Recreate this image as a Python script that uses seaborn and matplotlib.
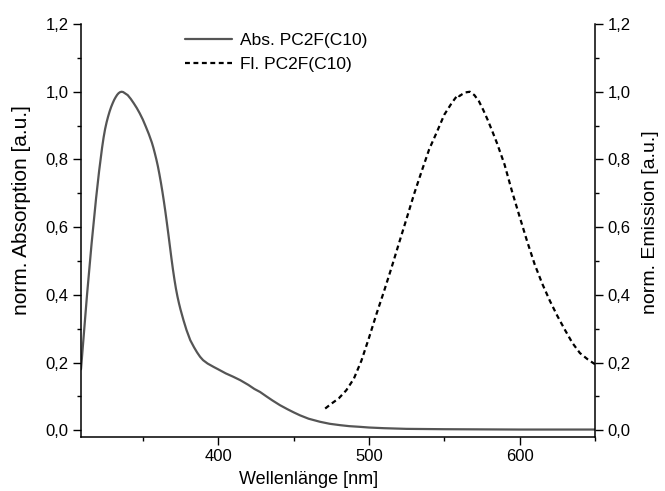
import numpy as np
import pandas as pd
import matplotlib
matplotlib.use("Agg")
import matplotlib.pyplot as plt
from matplotlib.ticker import MultipleLocator, FuncFormatter
import seaborn as sns

# Absorption spectrum (normalised)
abs_wl = [309, 310, 311, 312, 313, 314, 315, 316, 317, 318, 319, 320, 321, 322, 323, 324,
          325, 326, 327, 328, 329, 330, 331, 332, 333, 334, 335, 336, 337, 338, 340, 342,
          344, 346, 348, 350, 352, 354, 356, 357, 358, 359, 360, 361, 362, 363, 364, 365,
          366, 367, 368, 369, 370, 371, 372, 373, 374, 375, 377, 379, 381.5, 384, 386, 388,
          390, 393, 397, 400, 405, 410, 414.6, 420, 424, 427.8, 432, 436, 441, 446, 450,
          454.3, 460, 467.5, 474, 480.8, 487, 494, 500, 510, 525, 550, 600, 650]
abs_val = [0.18, 0.235, 0.29, 0.345, 0.40, 0.45, 0.50, 0.55, 0.595, 0.64, 0.685, 0.725,
           0.765, 0.80, 0.835, 0.865, 0.89, 0.91, 0.927, 0.942, 0.955, 0.966, 0.976, 0.984,
           0.991, 0.996, 0.999, 1.0, 0.999, 0.996, 0.99, 0.979, 0.966, 0.952, 0.936, 0.918,
           0.897, 0.875, 0.85, 0.835, 0.818, 0.80, 0.78, 0.757, 0.732, 0.705, 0.676, 0.645,
           0.612, 0.578, 0.543, 0.508, 0.475, 0.445, 0.418, 0.395, 0.375, 0.357, 0.325,
           0.296, 0.266, 0.245, 0.23, 0.217, 0.207, 0.197, 0.187, 0.18, 0.168, 0.158, 0.148,
           0.134, 0.122, 0.113, 0.10, 0.088, 0.074, 0.062, 0.053, 0.044, 0.034, 0.025,
           0.019, 0.015, 0.012, 0.01, 0.008, 0.006, 0.004, 0.003, 0.002, 0.002]

# Fluorescence spectrum (normalised)
fl_wl = [471, 475, 480, 485, 490, 495, 500, 505, 510, 515, 520, 525, 530, 535, 540, 545,
         550, 555, 559, 560, 562, 564, 567, 570, 573, 576, 579, 582, 585, 590, 595, 600,
         605, 610, 615, 620, 625, 630, 635, 640, 645, 650]
fl_val = [0.064, 0.078, 0.094, 0.118, 0.152, 0.205, 0.272, 0.343, 0.41, 0.48, 0.553, 0.625,
          0.698, 0.765, 0.83, 0.88, 0.932, 0.967, 0.991, 0.987, 0.993, 0.998, 1.0, 0.99,
          0.972, 0.945, 0.915, 0.882, 0.848, 0.785, 0.705, 0.631, 0.558, 0.49, 0.433,
          0.383, 0.338, 0.297, 0.258, 0.228, 0.21, 0.195]

df_abs = pd.DataFrame({"wl": abs_wl, "val": abs_val})
df_fl = pd.DataFrame({"wl": fl_wl, "val": fl_val})

sns.set_style("ticks")
plt.rcParams["font.family"] = ["Liberation Sans", "DejaVu Sans"]
plt.rcParams["font.size"] = 12
for k in ("text.color", "axes.labelcolor", "xtick.color", "ytick.color", "axes.edgecolor"):
    plt.rcParams[k] = "black"

fig = plt.figure(figsize=(6.65, 4.91), dpi=100)
ax = fig.add_axes([0.1218, 0.11, 0.7729, 0.841])
ax2 = ax.twinx()

sns.lineplot(data=df_abs, x="wl", y="val", ax=ax, color="#555555", lw=1.6,
             label="Abs. PC2F(C10)", legend=False)
sns.lineplot(data=df_fl, x="wl", y="val", ax=ax2, color="black", lw=1.6,
             linestyle=(0, (2.2, 1.6)), label="Fl. PC2F(C10)", legend=False)

comma = FuncFormatter(lambda v, p: f"{v:.1f}".replace(".", ","))
for a in (ax, ax2):
    a.set_xlim(309, 650)
    a.set_ylim(-0.02, 1.2)
    a.yaxis.set_major_locator(MultipleLocator(0.2))
    a.yaxis.set_minor_locator(MultipleLocator(0.1))
    a.yaxis.set_major_formatter(comma)
    a.spines["top"].set_visible(False)
    a.tick_params(which="major", direction="out", length=5.5, width=1, labelsize=12)
    a.tick_params(which="minor", direction="out", length=3, width=1)
    for s in a.spines.values():
        s.set_linewidth(1.1)

ax.xaxis.set_major_locator(MultipleLocator(100))
ax.xaxis.set_minor_locator(MultipleLocator(50))
ax.spines["right"].set_visible(False)
ax2.spines["left"].set_visible(False)
ax2.spines["bottom"].set_visible(False)
ax2.spines["right"].set_visible(True)

ax.set_xlabel("Wellenlänge [nm]", fontsize=13)
ax.set_ylabel("norm. Absorption [a.u.]", fontsize=15)
ax2.set_ylabel("norm. Emission [a.u.]", fontsize=14)
ax.xaxis.set_label_coords(0.4436, -0.082)
ax.yaxis.set_label_coords(-0.097, 0.55)
ax2.yaxis.set_label_coords(1.092, 0.52)

h1, l1 = ax.get_legend_handles_labels()
h2, l2 = ax2.get_legend_handles_labels()
ax2.legend(h1 + h2, l1 + l2, loc="upper left", bbox_to_anchor=(0.268, 0.947),
           bbox_transform=fig.transFigure, frameon=False, fontsize=12.5,
           handlelength=2.7, handletextpad=0.45, labelspacing=0.5, borderaxespad=0)

fig.savefig("out.png", dpi=100)
